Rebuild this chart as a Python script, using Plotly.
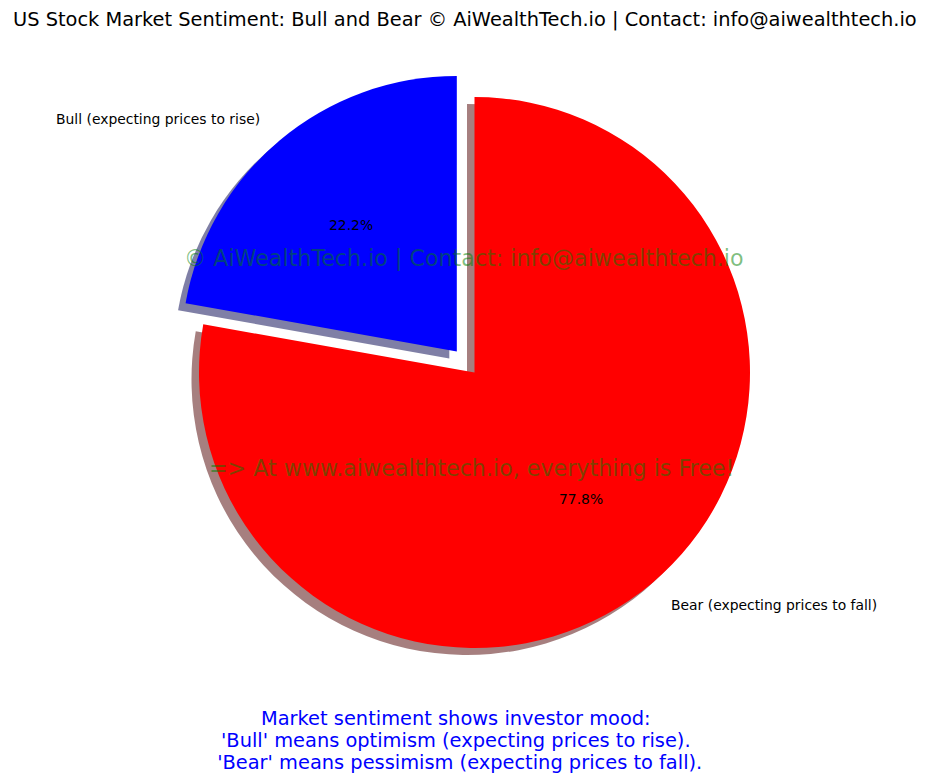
import math
import plotly.graph_objects as go

labels = ["Bull (expecting prices to rise)", "Bear (expecting prices to fall)"]
values = [22.2, 77.8]
colors = ["#0000ff", "#ff0000"]
shadow_colors = ["rgba(0,0,77,0.5)", "rgba(77,0,0,0.5)"]
explode = [0.1, 0.0]
footer_lines = ["Market sentiment shows investor mood:",
                "'Bull' means optimism (expecting prices to rise).",
                "\u00a0'Bear' means pessimism (expecting prices to fall)."]

OFF = 8.0  # page body margin
W, H = 927, 773
FONT = "DejaVu Sans"


def X(px):
    return (px - OFF) / W


def Y(py):
    return 1 - (py - OFF) / H


# pie geometry in screen pixels
cx, cy, r = 474.5, 372.5, 275.5
maxpull = max(explode)
half = r * (1 + maxpull)
sh_dx, sh_dy = -7.5, 7.0


def dom(cxp, cyp):
    return dict(x=[X(cxp - half), X(cxp + half)],
                y=[Y(cyp + half), Y(cyp - half)])


fig = go.Figure()
# slices counterclockwise from 12 o'clock == reversed order drawn clockwise from 12 o'clock
for cols, dx, dy in [(shadow_colors, sh_dx, sh_dy), (colors, 0, 0)]:
    fig.add_trace(go.Pie(labels=labels[::-1], values=values[::-1], sort=False, direction="clockwise",
                         rotation=0, pull=explode[::-1], marker=dict(colors=cols[::-1], line=dict(width=0)),
                         textinfo="none", hoverinfo="skip", showlegend=False,
                         domain=dom(cx + dx, cy + dy)))

ann = []
total = sum(values)
start = 90.0
for lab, v, ex in zip(labels, values, explode):
    ang = start + 360.0 * v / total / 2
    start += 360.0 * v / total
    a = math.radians(ang)
    ccx = cx + ex * r * math.cos(a)
    ccy = cy - ex * r * math.sin(a)
    lx = ccx + 1.1 * r * math.cos(a)
    ly = ccy - 1.1 * r * math.sin(a)
    px = ccx + 0.6 * r * math.cos(a)
    py = ccy - 0.6 * r * math.sin(a)
    ann.append(dict(x=X(lx), y=Y(ly), xref="paper", yref="paper", text=lab, showarrow=False,
                    xanchor="right" if math.cos(a) < 0 else "left", yanchor="middle",
                    font=dict(family=FONT, size=13.9, color="black")))
    ann.append(dict(x=X(px), y=Y(py), xref="paper", yref="paper",
                    text=f"{100 * v / total:.1f}%", showarrow=False, xanchor="center", yanchor="middle",
                    font=dict(family=FONT, size=13.9, color="black")))

ann.append(dict(x=X(464), y=Y(258), xref="paper", yref="paper",
                text="© AiWealthTech.io | Contact: info@aiwealthtech.io", showarrow=False,
                xanchor="center", yanchor="middle",
                font=dict(family=FONT, size=22.2, color="rgba(0,128,0,0.5)")))
ann.append(dict(x=X(471), y=Y(468), xref="paper", yref="paper",
                text="=> At www.aiwealthtech.io, everything is Free!", showarrow=False,
                xanchor="center", yanchor="middle",
                font=dict(family=FONT, size=22.2, color="rgba(0,128,0,0.5)")))
for i, line in enumerate(footer_lines):
    ann.append(dict(x=X(456), y=Y(718 + 22 * i), xref="paper", yref="paper",
                    text=line, showarrow=False, xanchor="center", yanchor="middle",
                    font=dict(family=FONT, size=19.4, color="blue")))

ann.append(dict(x=X(465), y=Y(20), xref="paper", yref="paper",
                text="US Stock Market Sentiment: Bull and Bear © AiWealthTech.io | Contact: info@aiwealthtech.io",
                showarrow=False, xanchor="center", yanchor="middle",
                font=dict(family=FONT, size=19.4, color="black")))

fig.update_layout(
    width=W, height=H,
    margin=dict(l=0, r=0, t=0, b=0),
    paper_bgcolor="white", plot_bgcolor="white",
    annotations=ann,
)

fig.write_html("out.html")
